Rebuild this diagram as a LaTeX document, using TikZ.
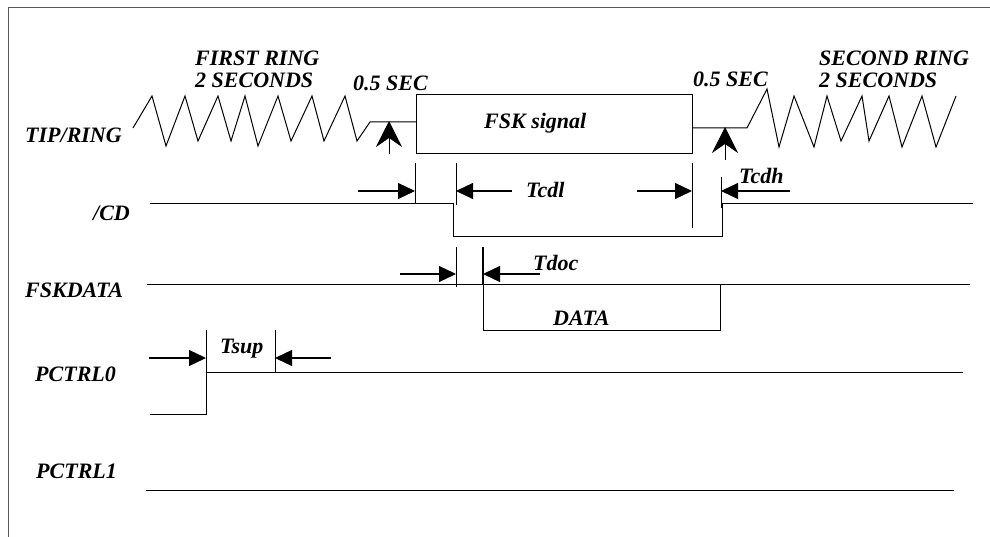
\documentclass[tikz,border=0pt]{standalone}
\usepackage{fontspec}
\setmainfont{Liberation Serif}
\usetikzlibrary{arrows.meta}
\tikzset{
  lbl/.style={inner sep=0pt, anchor=base west, font=\fontsize{22}{18}\selectfont\bfseries\itshape},
  caps/.style={lbl, text height=14pt, text depth=0pt},
  wave/.style={line width=1pt, black},
  tick/.style={line width=1pt, black},
  dimarrow/.style={line width=1.2pt, -{Triangle[length=17pt,width=16pt]}},
  uparrow/.style={line width=0.9pt, -{Stealth[length=26pt,width=26pt,inset=9pt]}},
  frame/.style={line width=1pt, gray!70!black}
}
\begin{document}
\begin{tikzpicture}[x=1pt,y=-1pt]
\useasboundingbox (0,0) rectangle (990,537);
\draw[frame] (8,537) -- (8,8) -- (990,8);

% labels
\node[lbl] (tipring) at (25,143) {TIP/RING};
\node[lbl] (cd) at (93,221) {/CD};
\node[lbl] (fskdata) at (25,297) {FSKDATA};
\node[lbl] (pctrl0) at (35,381) {PCTRL0};
\node[lbl] (pctrl1) at (36,478) {PCTRL1};
\node[caps] (firstring) at (195,66) {FIRST RING};
\node[caps] (firstsec) at (195,88) {2 SECONDS};
\node[caps] (secondring) at (819,66) {SECOND RING};
\node[caps] (secondsec) at (819,88) {2 SECONDS};
\node[lbl] (sec1) at (353,91) {0.5 SEC};
\node[lbl] (sec2) at (693,87) {0.5 SEC};
\node[lbl] (fsk) at (484,129) {FSK signal};
\node[lbl] (tcdl) at (526,198) {Tcdl};
\node[lbl] (tcdh) at (739,184) {Tcdh};
\node[lbl] (tdoc) at (533,270) {Tdoc};
\node[lbl] (data) at (553,325) {DATA};
\node[lbl] (tsup) at (220,353) {Tsup};

% TIP/RING waveform
\draw[wave] (133,128) -- (152,96) -- (166,146) -- (185,96) -- (198,141) -- (218,96) -- (231,141)
  -- (245,96) -- (258,146) -- (278,96) -- (291,141) -- (312,96) -- (324,141) -- (345,96)
  -- (357,141) -- (370,122) -- (416,122);
\draw[wave] (416,95) rectangle (692,154);
\draw[wave] (692,128) -- (747,128) -- (767,89) -- (779,147) -- (794,96) -- (814,147) -- (827,96)
  -- (841,141) -- (862,96) -- (869,141) -- (889,96) -- (902,147) -- (922,96) -- (936,147) -- (956,96);
\coordinate (ua1s) at (389,154); \coordinate (ua1e) at (389,121);
\coordinate (ua2s) at (725,160); \coordinate (ua2e) at (725,127);
\draw[uparrow] (ua1s) -- (ua1e);
\draw[uparrow] (ua2s) -- (ua2e);

% /CD waveform
\draw[wave] (150,204) -- (453,204) -- (453,237) -- (722,237) -- (722,204) -- (973,204);
\coordinate (t1) at (415,191); \coordinate (t2) at (456,191);
\coordinate (t3) at (692,191); \coordinate (t4) at (721,191);
\draw[tick] (415,163) -- (415,204);
\draw[tick] (456,163) -- (456,205);
\draw[tick] (692,163) -- (692,228);
\draw[tick] (721,177) -- (721,208);
\coordinate (a1) at (358,191); \coordinate (a2) at (512,191);
\coordinate (a3) at (637,191); \coordinate (a4) at (790,191);
\draw[dimarrow] (a1) -- (t1);
\draw[dimarrow] (a2) -- (t2);
\draw[dimarrow] (a3) -- (t3);
\draw[dimarrow] (a4) -- (t4);

% FSKDATA waveform
\draw[wave] (147,284) -- (970,284);
\draw[wave] (483,284) -- (483,330) -- (720,330) -- (720,284);
\draw[tick] (456,247) -- (456,287);
\draw[tick, line width=1.5pt] (483,247) -- (483,284);
\coordinate (d1) at (456,274); \coordinate (d2) at (483,274);
\coordinate (b1) at (400,274); \coordinate (b2) at (540,274);
\draw[dimarrow] (b1) -- (d1);
\draw[dimarrow] (b2) -- (d2);

% PCTRL0 waveform
\draw[wave] (150,414) -- (206,414) -- (206,372) -- (963,372);
\draw[tick] (206,330) -- (206,372);
\draw[tick] (275,330) -- (275,372);
\coordinate (s1) at (206,358); \coordinate (s2) at (275,358);
\coordinate (c1) at (149,358); \coordinate (c2) at (331,358);
\draw[dimarrow] (c1) -- (s1);
\draw[dimarrow] (c2) -- (s2);

% PCTRL1
\draw[wave] (146,490) -- (954,490);
\end{tikzpicture}
\end{document}
